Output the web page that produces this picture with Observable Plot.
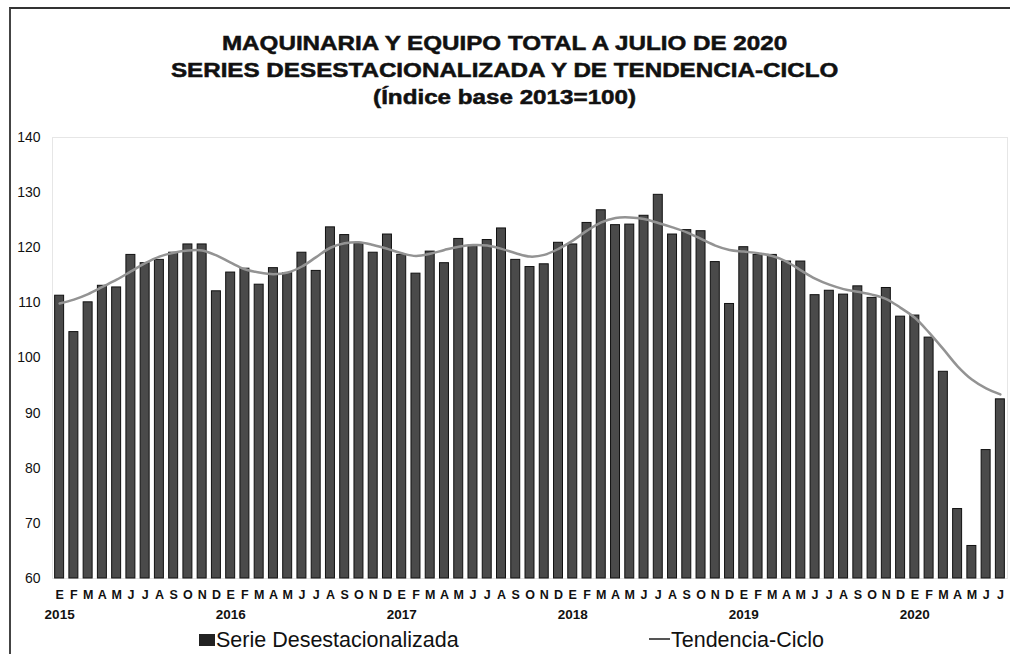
<!DOCTYPE html>
<html>
<head>
<meta charset="utf-8">
<script src="https://cdn.jsdelivr.net/npm/d3@7"></script>
<script src="https://cdn.jsdelivr.net/npm/@observablehq/plot@0.6"></script>
<style>
  html, body { margin: 0; padding: 0; background: #fff; }
  body { width: 1010px; height: 654px; position: relative; overflow: hidden; font-family: "Liberation Sans", Arial, sans-serif; }
  #frame { position: absolute; left: 9px; top: 7px; right: 0; bottom: 0; border-top: 2px solid #333; border-left: 2px solid #444; pointer-events: none; }
  #title { position: absolute; left: 0; top: 30px; width: 1010px; text-align: center; font-weight: bold; font-size: 20px; line-height: 27px; color: #111; transform: scaleX(1.21); transform-origin: 507px 0; -webkit-text-stroke: 0.5px #111; }
  #chart { position: absolute; left: 0; top: 120px; }
  #legend { position: absolute; left: 0; top: 628px; width: 1010px; height: 26px; font-size: 21.5px; color: #111; }
  #legend .item { position: absolute; top: 0; white-space: nowrap; }
  #legend .sq { display: inline-block; width: 16px; height: 12px; background: #222; margin-right: 1px; vertical-align: 1px; }
  #legend .ln { display: inline-block; width: 21px; height: 2px; background: #555; margin-right: 1px; vertical-align: 7px; }
</style>
</head>
<body>
<div id="frame"></div>
<div id="title">MAQUINARIA Y EQUIPO TOTAL A JULIO DE 2020<br>SERIES DESESTACIONALIZADA Y DE TENDENCIA-CICLO<br>(Índice base 2013=100)</div>
<div id="chart"></div>
<div id="legend">
  <span class="item" style="left:199px"><span class="sq"></span>Serie Desestacionalizada</span>
  <span class="item" style="left:649px"><span class="ln"></span>Tendencia-Ciclo</span>
</div>
<script>
const months = ["E","F","M","A","M","J","J","A","S","O","N","D"];
const years = ["2015","2016","2017","2018","2019","2020"];
const yTicks = [60, 70, 80, 90, 100, 110, 120, 130, 140];

const serie = [
  111.3, 104.7, 110.1, 113.1, 112.8, 118.7, 117.2, 117.8, 119.1, 120.6, 120.6, 112.1,
  115.5, 116.2, 113.3, 116.3, 115.4, 119.1, 115.8, 123.7, 122.3, 120.8, 119.1, 122.4,
  118.7, 115.3, 119.3, 117.2, 121.6, 120.4, 121.4, 123.5, 117.8, 116.5, 117.0, 120.9,
  120.6, 124.5, 126.8, 124.1, 124.2, 125.8, 129.6, 122.4, 123.2, 123.0, 117.4, 109.8,
  120.1, 118.7, 118.7, 117.5, 117.5, 111.4, 112.2, 111.5, 113.0, 110.9, 112.7, 107.5,
  107.7, 103.7, 97.5, 72.6, 65.9, 83.3, 92.5
];

const tendencia = [
  109.9, 110.6, 111.6, 112.9, 114.2, 115.7, 117.2, 118.4, 119.1, 119.5, 119.5, 118.6,
  117.3, 116.1, 115.5, 115.2, 115.5, 116.6, 118.3, 120.0, 120.8, 121.0, 120.5, 119.8,
  119.0, 118.5, 118.9, 119.6, 120.2, 120.5, 120.4, 119.8, 119.0, 118.4, 118.7, 119.8,
  121.3, 123.1, 124.6, 125.4, 125.5, 125.2, 124.5, 123.7, 122.8, 121.6, 120.4, 119.6,
  119.3, 119.0, 118.5, 117.5, 115.9, 114.4, 113.3, 112.5, 112.0, 111.5, 110.7, 109.1,
  107.3, 104.6, 101.6, 98.5, 96.1, 94.5, 93.4
];

const data = serie.map((v, i) => ({ i, v, t: tendencia[i] }));
const idx = d3.range(serie.length);
const yearTicks = years.map((y, k) => k * 12);

const chart = Plot.plot({
  width: 1010,
  height: 510,
  marginLeft: 52,
  marginRight: 3,
  marginTop: 17,
  marginBottom: 52,
  style: { fontFamily: "Liberation Sans, Arial, sans-serif", background: "transparent" },
  x: { type: "band", domain: idx, paddingInner: 0.37, paddingOuter: 0.185, round: false, axis: null },
  y: { domain: [60, 140], axis: null },
  marks: [
    Plot.frame({ stroke: "#e6e6e6" }),
    Plot.barY(data, { x: "i", y1: 60, y2: "v", fill: "#4a4a4a", stroke: "#111", strokeWidth: 1 }),
    Plot.line(data, { x: "i", y: "t", stroke: "#939393", strokeWidth: 2.5, curve: "catmull-rom" }),
    Plot.axisY({ ticks: yTicks, tickSize: 0, tickPadding: 12, fontSize: 14, fill: "#111", label: null }),
    Plot.axisX({ ticks: idx, tickFormat: i => months[i % 12], tickSize: 0, tickPadding: 12, fontSize: 12.5, fontWeight: "bold", fill: "#111", label: null }),
    Plot.axisX({ ticks: yearTicks, tickFormat: i => years[i / 12], tickSize: 0, tickPadding: 31, fontSize: 13.5, fontWeight: "bold", fill: "#111", label: null })
  ]
});
document.getElementById("chart").appendChild(chart);
</script>
</body>
</html>
